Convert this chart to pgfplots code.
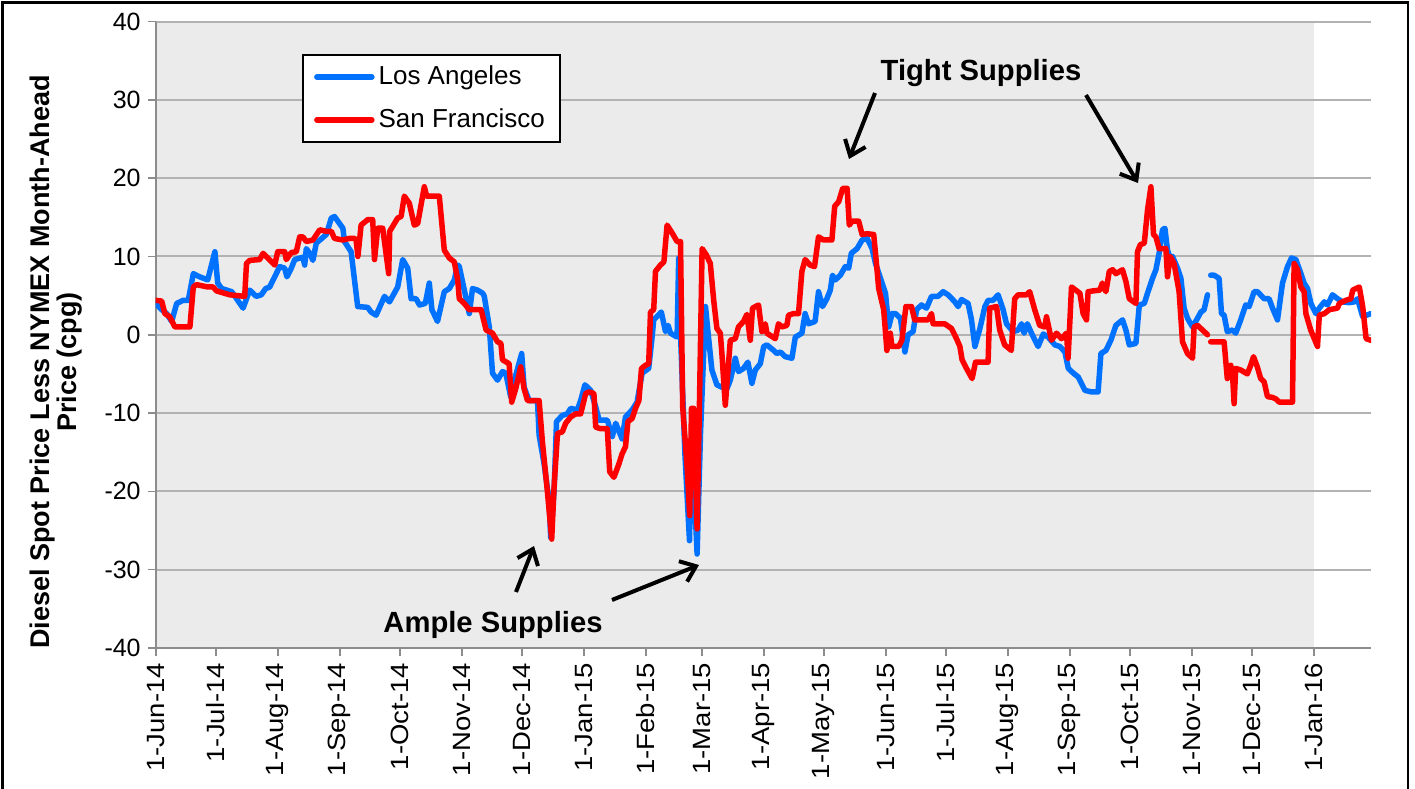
\documentclass[border=0pt]{standalone}
\usepackage{pgfplots}
\pgfplotsset{compat=1.18}
\usepackage{pgfplotstable}
\usepackage{fontspec}
\setmainfont{Liberation Sans}
\newfontfamily\stretchfont[FakeStretch=1.1]{Liberation Sans}
\usetikzlibrary{arrows.meta}
\definecolor{lablue}{RGB}{0,114,255}
\definecolor{sfred}{RGB}{255,0,0}
\definecolor{bggray}{RGB}{235,235,235}
\definecolor{gridgray}{RGB}{178,178,178}
\definecolor{axisgray}{RGB}{140,140,140}
\newcommand\tfont{\fontsize{12.5}{15}\selectfont}
\newcommand\xfont{\stretchfont\fontsize{12.5}{15}\selectfont}

% day 0 = 1-Jun-2014
\pgfplotstableread{
d v
0 4.0
3 3.2
5.5 2.7
8 1.7
10.5 4.0
13.8 4.4
16.3 4.4
18.8 7.8
22 7.4
26 7.0
29.6 10.6
31 6.6
33 5.9
38 5.5
43.7 3.4
47 5.7
50.3 4.9
52.8 5.1
55 5.9
57 6.1
59.5 7.4
62 8.7
64.5 8.5
65.6 7.4
67.8 8.5
69.5 9.6
73.6 9.9
74.5 8.9
75.3 11.0
77 10.4
78.6 9.5
80.3 11.7
85.3 12.8
87.8 14.9
89.4 15.1
93.6 13.6
94.4 11.9
97.7 10.6
101 3.6
106 3.5
107.7 2.9
110.2 2.5
114.4 4.9
116.9 4.2
121 6.1
123.5 9.6
126 8.5
127.7 4.6
130.2 4.6
131.9 3.8
134.8 4.0
136.8 6.6
138.1 3.2
140.9 1.7
144.3 5.5
146.8 5.9
149.3 7.0
151 8.9
151.8 8.7
154.3 5.7
156.8 2.7
158.4 5.9
160.9 5.7
163.5 5.3
164.3 4.9
166.8 1.0
168.4 -4.9
170.9 -5.8
173.4 -4.7
175 -4.9
177.5 -7.9
180 -5.2
183 -2.4
184.2 -6.7
186.7 -8.4
190.9 -8.4
191.7 -12.8
194.2 -16.5
196.7 -21.2
197.5 -25.9
199.2 -19.9
200.4 -11.1
203.3 -10.3
205.8 -10.1
207.5 -9.4
210.8 -9.6
212.5 -8.4
214.6 -6.4
217.5 -7.1
220 -9.2
221.7 -10.9
225.8 -10.9
228.3 -13.0
230 -11.3
233.2 -13.3
234.9 -10.5
238.2 -9.6
240.7 -8.6
243.2 -4.9
246.5 -4.3
248.2 -0.3
249 1.9
252.8 2.9
254.9 0.4
256.2 1.2
257.4 0.2
260.7 -0.3
261.5 9.8
262.4 0.2
264.6 -15.2
266.9 -26.3
268.2 -10.1
269.5 -21.2
270.7 -28.0
272.4 -12.6
274.9 3.6
276.4 -0.3
278.1 -4.5
280.6 -6.4
283.1 -6.7
285.6 -6.9
287.3 -5.8
289.8 -3.0
291.4 -4.7
293.9 -4.3
296.1 -3.5
298.1 -6.2
299.8 -4.5
302.3 -3.7
304 -1.5
305.6 -1.3
309 -2.0
310.6 -2.4
312.3 -2.2
314.8 -2.8
318.1 -3.0
319.8 -0.3
323.1 0.2
324.7 2.7
326.4 1.4
329.7 1.7
331.4 5.5
333.4 3.6
335.6 4.6
337.3 5.7
338.4 7.6
339.8 7.0
342.3 7.6
344.8 8.7
346.5 8.5
347.8 10.4
350.7 11.0
353.2 12.1
355.7 12.3
358.2 11.0
359.9 9.1
362.4 7.2
364.9 5.3
366.5 1.0
368.2 2.7
369.9 2.7
372.4 2.1
374.6 -2.2
376.2 0
378.7 0.4
380.4 3.2
382.9 3.8
385.4 3.4
387.9 4.9
391.2 4.9
393.7 5.5
396.2 5.1
399.6 4.2
401.2 3.6
402.9 4.5
406.2 4.0
407.9 1.9
409.6 -1.5
412.1 0.8
414.6 3.6
416.2 4.4
418.7 4.4
421.2 5.1
423.7 3.2
425.4 1.4
428.7 0.4
431.2 0.6
432.9 1.4
434.2 0.2
435.8 1.4
437.9 0.2
441.2 -1.5
443.8 0.1
446.2 -0.3
449.6 -1.3
452.1 -1.5
454.6 -2.2
456.3 -4.3
458.8 -4.9
461.3 -5.4
464.6 -7.1
467.9 -7.3
471.2 -7.3
472.6 -2.4
475.1 -2.0
477.6 -0.7
480.1 1.2
483.4 1.9
485.1 0.6
486.8 -1.3
490.1 -1.1
491.8 3.8
494.3 4.0
495.9 5.3
498.4 7.2
500.1 8.3
501.7 10.4
503.4 13.4
504.6 13.6
505.9 10.8
507.2 9.8
508.4 10.0
510.9 8.5
512.6 7.2
514.2 3.4
515.9 2.1
518.4 1.0
520.9 2.1
522.6 2.9
524.2 3.2
525.9 5.1
526.7 nan
527.5 7.6
529.2 7.6
531.7 7.2
532.9 2.7
534.2 2.5
535.8 0.4
538.4 0.6
540 0.2
542.5 1.9
545 3.8
546.7 3.6
549.2 5.5
550.9 5.5
554.2 4.6
556.7 4.6
558.4 3.4
560.9 1.9
563.4 6.6
565.9 8.7
567.9 9.8
570.1 9.6
572.6 7.8
574.2 6.6
575.9 5.9
577.6 4.0
580.1 2.7
581.8 3.4
584.3 4.2
585.9 3.8
588.4 5.1
590.9 4.6
593.4 4.2
596.7 4.1
599.3 4.2
600.9 4.6
603.5 2.3
607.5 2.7
}\ladata

\pgfplotstableread{
d v
0 4.4
3 4.3
4.6 2.7
7 2.3
9.6 1.0
17.1 1.0
18.8 6.1
20.4 6.4
26 6.1
28.7 6.1
30.4 5.6
37 5.1
44.5 4.9
45.4 9.1
47 9.5
52 9.6
53.7 10.4
56 9.8
59.5 8.9
61 10.6
64.5 10.6
65.3 9.6
67.8 10.5
70.3 10.6
72 12.5
73.6 12.5
75.3 11.9
78.6 12.1
82 13.4
85.3 13.2
87.8 13.2
89.4 12.3
93.6 12.1
96.9 12.3
99.4 12.3
100.2 12.1
101.1 10.0
102.7 14.0
106 14.7
108.5 14.7
109.4 9.6
111 13.6
113.5 13.6
116.5 7.8
117 13.2
121 14.9
122.7 15.1
124.3 17.7
126.8 16.8
129.3 14.0
131 14.2
134.3 18.9
135.5 17.7
141.8 17.7
144.3 10.8
146.8 9.8
149.3 9.3
151 7.0
151.8 4.6
154.3 4.0
156.8 3.2
162.7 3.2
165.2 0.6
168.4 0.2
170.9 -0.9
172.6 -1.1
173.4 -3.2
176.7 -3.7
178 -8.6
180 -6.9
182.5 -4.1
184.2 -6.9
185.9 -8.4
191.7 -8.4
193.3 -13.5
195.8 -19.9
198 -26.1
199.2 -19.4
200.9 -12.6
203.3 -12.4
205 -11.3
207.5 -10.5
210 -10.1
212.5 -10.1
215 -7.5
216.7 -7.3
219.1 -7.5
220 -11.8
222.5 -12.0
225.8 -12.0
227 -17.5
229.1 -18.2
231.6 -16.5
233.2 -15.2
234.9 -14.3
236.1 -11.1
238.2 -10.7
239.9 -9.4
241.6 -8.4
242.9 -4.3
244.9 -3.9
246.5 -3.7
247.4 2.9
249 3.2
249.9 8.1
252.4 8.9
254.1 9.3
255.7 14.0
258.2 13.0
260.7 11.9
262.4 11.9
263.5 -9.2
265.7 -16.9
267 -23.1
267.9 -9.4
269 -9.4
270.7 -24.8
271.9 -8.4
273.2 11.0
275.3 10.2
277.3 9.1
279 4.4
280.6 0.8
282.3 0.2
283.1 -2.4
284.8 -9.0
287.3 -0.7
289.8 -0.5
291.4 1.0
293.9 1.7
295.6 2.6
297.3 -0.7
298.4 3.4
301.4 3.8
303.1 0.4
304.8 1.4
305.6 0.2
309.8 -0.5
311.4 1.4
313.1 1.0
315.6 1.2
316.4 2.5
318.9 2.7
321.4 2.7
323.1 8.1
324.7 9.6
327.2 8.9
329.4 8.7
331.4 12.5
333.9 12.1
338.1 12.1
339.5 16.4
341.5 17.0
343.5 18.7
345.7 18.7
346.8 14.0
348.2 14.5
351.5 14.5
353.2 12.8
355.7 12.9
359 12.8
360.2 9.6
361.5 5.9
364 3.2
365.6 -2.0
367.3 0.2
368.1 -1.5
371.5 -1.5
373.1 -0.7
375.1 3.6
377.9 3.6
379.5 1.9
386.2 1.9
387.9 2.7
388.7 1.4
394.5 1.4
397.9 0.8
400.4 -0.5
402.1 -1.5
403.2 -3.2
405.4 -4.3
408.2 -5.6
409.9 -3.5
416.2 -3.5
417 3.4
420.4 3.6
422 0.6
424.5 -1.3
427.8 -2.0
429.5 4.6
431.2 5.1
435.3 5.1
437 5.5
439.5 3.2
442 1.2
444.5 1.0
445.4 2.3
447.9 -0.7
450.4 0.2
452.9 -0.5
455.4 0.2
456.2 -3.0
457.9 6.1
462.1 5.3
463.7 2.7
465.4 1.9
466.2 5.5
468.7 5.6
472.1 5.7
473.3 6.6
475.1 5.5
476.8 8.1
478.5 8.3
480.1 7.8
483.4 8.3
485.1 6.8
486.8 4.6
490.1 4.0
490.9 10.6
492.3 11.5
494.3 11.7
495.9 15.9
497.6 18.9
498.9 12.8
500.1 12.5
501.7 11.0
505.1 11.0
505.9 7.4
507.2 10.0
509.2 9.1
511.7 5.5
513.4 -0.9
515.9 -2.4
518.4 -3.0
519.2 1.0
520.9 1.2
523.4 0.6
525.9 0
526.7 nan
527.5 -0.9
534.2 -0.9
535.8 -5.6
537.5 -3.9
538.4 -5.0
539.2 -8.8
540 -4.3
542.5 -4.5
545.8 -5.0
547.5 -3.9
548.9 -2.8
550.8 -4.1
552.5 -5.6
554.2 -6.0
555.9 -7.9
558.4 -8.0
560.1 -8.2
561.7 -8.6
568.4 -8.6
569.2 9.1
570.9 8.3
572.6 6.1
574.2 5.5
575.1 2.7
577.5 0.6
580.9 -1.5
581.8 2.5
584.3 2.7
586.8 3.2
590.9 3.4
591.8 4.0
595.1 4.4
597.6 4.6
598.5 5.7
601.8 6.1
603.5 3.6
605.2 -0.5
607.5 -0.7
}\sfdata

\begin{document}
\begin{tikzpicture}
\begin{axis}[
  set layers,
  at={(77.85pt,70pt)}, anchor=south west,
  scale only axis, width=607.65pt, height=313.25pt,
  xmin=0, xmax=607.65, ymin=-40, ymax=40,
  axis lines=left,
  axis line style={-, draw=axisgray, line width=0.8pt},
  tick style={draw=axisgray, line width=0.8pt},
  tick align=outside, major tick length=4pt,
  xtick={0,30,61,92,122,153,183,214,245,273,304,334,365,395,426,457,487,518,548,579},
  xticklabels={1-Jun-14,1-Jul-14,1-Aug-14,1-Sep-14,1-Oct-14,1-Nov-14,1-Dec-14,1-Jan-15,1-Feb-15,1-Mar-15,1-Apr-15,1-May-15,1-Jun-15,1-Jul-15,1-Aug-15,1-Sep-15,1-Oct-15,1-Nov-15,1-Dec-15,1-Jan-16},
  x tick label style={rotate=90, anchor=east, font=\xfont},
  ytick={-40,-30,...,40},
  y tick label style={font=\tfont},
  /pgf/number format/assume math mode=true,
  ymajorgrids, grid style={draw=gridgray, line width=1pt},
  unbounded coords=jump,
  legend cell align=left,
  legend style={at={(axis cs:73.15,35.85)}, anchor=north west,
    draw=black, line width=1.1pt, fill=white, font=\fontsize{13}{15}\selectfont,
    inner xsep=5.5pt, inner ysep=3.5pt, row sep=6.5pt},
  legend image code/.code={\draw[#1] (0pt,0pt) -- (27.5pt,0pt);},
]
\begin{pgfonlayer}{axis background}
\fill[bggray] (axis cs:0,-40) rectangle (axis cs:579,40);
\end{pgfonlayer}
\addplot[lablue, line width=2.75pt, line join=round, line cap=round] table[x=d,y=v]{\ladata};
\addlegendentry{Los Angeles}
\addplot[sfred, line width=2.75pt, line join=round, line cap=round] table[x=d,y=v]{\sfdata};
\addlegendentry{San Francisco}
\end{axis}
\begin{scope}[x=0.5pt, y=-0.5pt, shift={(0pt,394pt)}]
  \draw[line width=1.4pt] (2.5,2.5) rectangle (1408,820);
  \node[rotate=90, align=center, font=\fontsize{13.5}{13.5}\bfseries\selectfont] at (56,362)
    {Diesel Spot Price Less NYMEX Month-Ahead\\Price (cpg)};
  \node[font=\fontsize{14.6}{17}\bfseries\selectfont] at (981,73) {Tight Supplies};
  \node[font=\fontsize{14.6}{17}\bfseries\selectfont] at (493,625) {Ample Supplies};
  \begin{scope}[line width=2pt, -{Straight Barb[length=7pt,width=11pt,line width=2pt]}]
    \draw (875,93) -- (849,159);
    \draw (1086,95) -- (1138,183);
    \draw (516,592) -- (534,546);
    \draw (612,600) -- (699,565);
  \end{scope}
\end{scope}
\pgfresetboundingbox
\path[use as bounding box] (0pt,0pt) rectangle (707.5pt,394pt);
\end{tikzpicture}
\end{document}
